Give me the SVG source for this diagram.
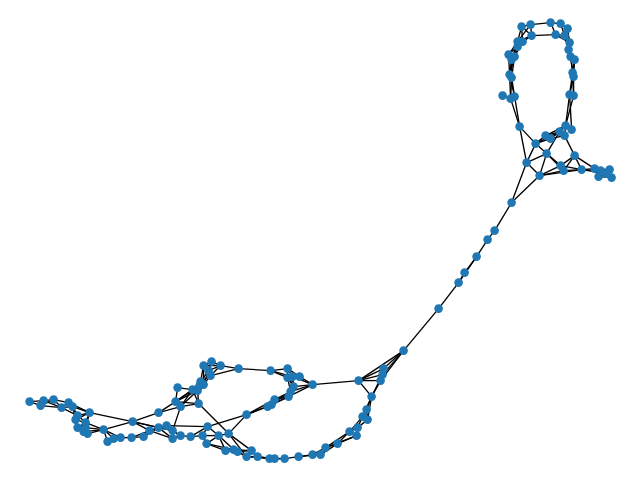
<svg xmlns="http://www.w3.org/2000/svg" width="640" height="480" viewBox="0 0 640 480">
<style>
#edges path{stroke:#000;stroke-width:1.35;fill:none}
.n circle{fill:#1f77b4;r:4.3px}
</style>
<rect width="640" height="480" fill="#fff"/>
<g id="edges" transform="translate(0.6 0.6)">
<path d="M521 26L530 24"/><path d="M530 24L550 22"/><path d="M550 22L560 23"/><path d="M560 23L567 28"/><path d="M531 35L555 34"/><path d="M555 34L564 35"/><path d="M550 22L555 34"/><path d="M560 23L564 35"/><path d="M567 28L564 35"/><path d="M521 26L531 35"/><path d="M530 24L531 35"/><path d="M521 26L517 41"/><path d="M521 26L522 41"/><path d="M530 24L517 41"/><path d="M531 35L522 41"/><path d="M531 35L517 41"/><path d="M555 34L569 42"/><path d="M564 35L569 42"/><path d="M567 28L569 42"/><path d="M569 42L568 49"/><path d="M564 35L568 49"/><path d="M568 49L570 56"/><path d="M568 49L574 59"/><path d="M570 56L574 59"/><path d="M569 42L570 56"/><path d="M570 56L572 72"/><path d="M570 56L573 76"/><path d="M574 59L572 72"/><path d="M574 59L573 76"/><path d="M572 72L573 76"/><path d="M572 72L569 94"/><path d="M572 72L573 95"/><path d="M573 76L569 94"/><path d="M573 76L573 95"/><path d="M569 94L573 95"/><path d="M569 94L565 125"/><path d="M573 95L565 125"/><path d="M569 94L571 129"/>
<path d="M517 41L522 41"/><path d="M517 41L517 46"/><path d="M522 41L517 46"/><path d="M517 41L508 54"/><path d="M522 41L514 56"/><path d="M517 46L508 54"/><path d="M517 46L514 56"/><path d="M517 46L511 59"/><path d="M508 54L514 56"/><path d="M508 54L511 59"/><path d="M514 56L511 59"/><path d="M517 41L511 59"/><path d="M508 54L509 74"/><path d="M511 59L509 74"/><path d="M511 59L511 77"/><path d="M514 56L509 74"/><path d="M514 56L511 77"/><path d="M509 74L511 77"/><path d="M509 74L510 98"/><path d="M509 74L514 96"/><path d="M511 77L510 98"/><path d="M511 77L514 96"/><path d="M502 95L510 98"/><path d="M510 98L514 96"/><path d="M510 98L519 126"/><path d="M514 96L519 126"/>
<path d="M519 126L535 143"/><path d="M519 126L526 162"/><path d="M535 143L545 135"/><path d="M535 143L559 131"/><path d="M535 143L550 138"/><path d="M545 135L550 138"/><path d="M545 135L559 131"/><path d="M550 138L559 131"/><path d="M559 131L565 125"/><path d="M565 125L564 135"/><path d="M559 131L564 135"/><path d="M565 125L571 129"/><path d="M545 135L565 125"/><path d="M550 138L564 135"/><path d="M535 143L546 153"/><path d="M535 143L526 162"/><path d="M546 153L526 162"/><path d="M546 153L539 175"/><path d="M526 162L539 175"/><path d="M526 162L511 202"/><path d="M539 175L511 202"/><path d="M546 153L560 165"/><path d="M546 153L563 170"/><path d="M546 153L559 131"/><path d="M564 135L574 155"/><path d="M574 155L560 165"/><path d="M574 155L563 170"/><path d="M574 155L581 169"/><path d="M574 155L594 168"/><path d="M560 165L563 170"/><path d="M560 165L539 175"/><path d="M563 170L539 175"/><path d="M581 169L539 175"/><path d="M581 169L563 170"/><path d="M560 165L581 169"/><path d="M581 169L594 168"/><path d="M581 169L600 170"/><path d="M581 169L606 173"/><path d="M594 168L600 170"/><path d="M594 168L609 169"/><path d="M594 168L598 176"/><path d="M600 170L606 173"/><path d="M609 169L606 173"/><path d="M609 169L611 177"/><path d="M606 173L611 177"/><path d="M598 176L606 173"/><path d="M598 176L600 170"/><path d="M598 176L611 177"/><path d="M600 170L611 177"/>
<path d="M511 202L494 230"/><path d="M494 230L487 239"/><path d="M487 239L476 256"/><path d="M476 256L464 272"/><path d="M476 256L458 282"/><path d="M464 272L458 282"/><path d="M458 282L438 308"/><path d="M438 308L403 350"/>
<path d="M403 350L383 368"/><path d="M403 350L382 374"/><path d="M403 350L380 380"/><path d="M403 350L358 380"/><path d="M383 368L382 374"/><path d="M382 374L380 380"/><path d="M383 368L380 380"/><path d="M383 368L358 380"/><path d="M382 374L358 380"/><path d="M380 380L358 380"/><path d="M358 380L312 384"/><path d="M358 380L371 396"/><path d="M380 380L371 396"/><path d="M382 374L371 396"/><path d="M371 396L366 409"/><path d="M371 396L362 416"/><path d="M371 396L367 419"/><path d="M366 409L362 416"/><path d="M366 409L367 419"/><path d="M362 416L367 419"/><path d="M362 416L357 427"/><path d="M362 416L349 431"/><path d="M367 419L357 427"/><path d="M357 427L349 431"/><path d="M357 427L356 435"/><path d="M349 431L356 435"/><path d="M349 431L337 443"/><path d="M356 435L337 443"/><path d="M349 431L325 447"/><path d="M356 435L325 447"/><path d="M337 443L325 447"/><path d="M337 443L320 454"/><path d="M325 447L312 454"/><path d="M325 447L320 454"/><path d="M312 454L320 454"/><path d="M312 454L298 456"/><path d="M320 454L298 456"/><path d="M298 456L284 458"/><path d="M284 458L274 458"/><path d="M284 458L269 458"/><path d="M274 458L269 458"/><path d="M274 458L257 456"/><path d="M269 458L257 456"/><path d="M269 458L246 456"/><path d="M257 456L251 450"/><path d="M257 456L246 456"/><path d="M251 450L246 456"/><path d="M251 450L237 451"/><path d="M251 450L233 449"/><path d="M246 456L237 451"/><path d="M246 456L233 449"/><path d="M237 451L233 449"/><path d="M233 449L225 450"/><path d="M237 451L225 450"/>
<path d="M238 368L270 370"/><path d="M238 368L220 365"/><path d="M238 368L210 375"/><path d="M220 365L211 361"/><path d="M220 365L203 365"/><path d="M211 361L203 365"/><path d="M211 361L208 370"/><path d="M220 365L208 370"/><path d="M220 365L210 375"/><path d="M203 365L208 370"/><path d="M203 365L200 381"/><path d="M208 370L210 375"/><path d="M208 370L200 381"/><path d="M208 370L203 384"/><path d="M210 375L200 381"/><path d="M210 375L203 384"/><path d="M203 365L203 384"/><path d="M200 381L203 384"/><path d="M200 381L192 389"/><path d="M200 381L197 390"/><path d="M203 384L197 390"/><path d="M203 384L192 389"/><path d="M199 385L192 389"/><path d="M199 385L175 401"/><path d="M192 389L197 390"/><path d="M177 387L192 389"/><path d="M177 387L175 401"/><path d="M192 389L175 401"/><path d="M192 389L180 406"/><path d="M197 390L198 403"/><path d="M197 390L175 401"/><path d="M197 390L180 406"/><path d="M192 389L198 403"/><path d="M175 401L180 406"/><path d="M175 401L198 403"/><path d="M180 406L198 403"/><path d="M175 401L158 412"/><path d="M180 406L158 412"/><path d="M158 412L132 421"/><path d="M180 406L172 430"/><path d="M198 403L228 433"/>
<path d="M166 425L207 426"/><path d="M132 421L89 412"/><path d="M132 421L103 429"/><path d="M132 421L158 427"/><path d="M132 421L149 430"/><path d="M132 421L172 430"/><path d="M207 426L246 414"/><path d="M246 414L228 433"/><path d="M246 414L267 406"/><path d="M246 414L271 404"/><path d="M246 414L274 399"/><path d="M267 406L271 404"/><path d="M271 404L274 399"/><path d="M267 406L274 399"/><path d="M267 406L288 396"/><path d="M271 404L288 396"/><path d="M274 399L288 396"/><path d="M274 399L290 391"/><path d="M267 406L290 391"/><path d="M288 396L290 391"/><path d="M288 396L293 386"/><path d="M290 391L293 386"/><path d="M288 396L312 384"/><path d="M290 391L312 384"/><path d="M293 386L312 384"/><path d="M293 386L292 376"/><path d="M293 386L287 377"/><path d="M290 391L287 377"/><path d="M290 391L292 376"/><path d="M287 377L292 376"/><path d="M292 376L299 376"/><path d="M287 377L287 368"/><path d="M287 368L292 376"/><path d="M287 368L299 376"/><path d="M270 370L287 368"/><path d="M270 370L287 377"/><path d="M270 370L292 376"/><path d="M299 376L312 384"/><path d="M292 376L312 384"/>
<path d="M207 426L218 435"/><path d="M207 426L202 435"/><path d="M207 426L190 436"/><path d="M218 435L228 433"/><path d="M218 435L206 443"/><path d="M218 435L202 435"/><path d="M228 433L251 450"/><path d="M228 433L246 456"/><path d="M218 435L225 450"/><path d="M218 435L233 449"/><path d="M206 443L225 450"/><path d="M206 443L233 449"/><path d="M225 450L233 449"/><path d="M202 435L190 436"/><path d="M202 435L206 443"/><path d="M190 436L180 435"/><path d="M180 435L172 438"/><path d="M180 435L172 430"/><path d="M172 438L172 430"/><path d="M172 430L166 425"/><path d="M166 425L158 427"/><path d="M158 427L149 430"/><path d="M166 425L149 430"/><path d="M158 427L172 430"/><path d="M158 427L143 436"/><path d="M149 430L143 436"/><path d="M143 436L131 437"/><path d="M149 430L131 437"/><path d="M131 437L120 437"/><path d="M120 437L113 438"/><path d="M120 437L107 441"/><path d="M113 438L107 441"/><path d="M113 438L103 429"/><path d="M107 441L103 429"/><path d="M120 437L103 429"/><path d="M103 429L85 422"/><path d="M103 429L85 427"/><path d="M103 429L83 431"/><path d="M103 429L87 433"/><path d="M172 438L149 430"/><path d="M172 438L158 427"/>
<path d="M29 401L43 400"/><path d="M29 401L40 405"/><path d="M43 400L40 405"/><path d="M43 400L53 399"/><path d="M40 405L61 407"/><path d="M43 400L61 407"/><path d="M40 405L53 399"/><path d="M53 399L68 402"/><path d="M53 399L61 407"/><path d="M61 407L68 402"/><path d="M61 407L72 406"/><path d="M68 402L72 406"/><path d="M68 402L89 412"/><path d="M72 406L89 412"/><path d="M68 402L77 415"/><path d="M72 406L77 415"/><path d="M61 407L77 415"/><path d="M77 415L89 412"/><path d="M75 419L89 412"/><path d="M72 406L75 419"/><path d="M77 415L75 419"/><path d="M75 419L85 422"/><path d="M77 415L85 422"/><path d="M85 422L85 427"/><path d="M85 422L83 431"/><path d="M85 427L83 431"/><path d="M83 431L87 433"/><path d="M85 427L87 433"/><path d="M77 427L85 422"/><path d="M77 427L75 419"/><path d="M77 427L85 427"/><path d="M85 422L87 433"/><path d="M89 412L85 422"/><path d="M89 412L85 427"/>
</g>
<g id="nodes" transform="translate(0.6 0.6)">
<g id="n1" class="n"><circle cx="521" cy="26"/></g><g id="n2" class="n"><circle cx="530" cy="24"/></g><g id="n3" class="n"><circle cx="550" cy="22"/></g><g id="n4" class="n"><circle cx="560" cy="23"/></g><g id="n5" class="n"><circle cx="567" cy="28"/></g><g id="n6" class="n"><circle cx="531" cy="35"/></g><g id="n7" class="n"><circle cx="555" cy="34"/></g><g id="n8" class="n"><circle cx="564" cy="35"/></g><g id="n9" class="n"><circle cx="569" cy="42"/></g><g id="n10" class="n"><circle cx="568" cy="49"/></g><g id="n11" class="n"><circle cx="570" cy="56"/></g><g id="n12" class="n"><circle cx="574" cy="59"/></g><g id="n13" class="n"><circle cx="572" cy="72"/></g><g id="n14" class="n"><circle cx="573" cy="76"/></g><g id="n15" class="n"><circle cx="569" cy="94"/></g><g id="n16" class="n"><circle cx="573" cy="95"/></g>
<g id="n17" class="n"><circle cx="517" cy="41"/></g><g id="n18" class="n"><circle cx="522" cy="41"/></g><g id="n19" class="n"><circle cx="517" cy="46"/></g><g id="n20" class="n"><circle cx="508" cy="54"/></g><g id="n21" class="n"><circle cx="514" cy="56"/></g><g id="n22" class="n"><circle cx="511" cy="59"/></g><g id="n23" class="n"><circle cx="509" cy="74"/></g><g id="n24" class="n"><circle cx="511" cy="77"/></g><g id="n25" class="n"><circle cx="502" cy="95"/></g><g id="n26" class="n"><circle cx="510" cy="98"/></g><g id="n27" class="n"><circle cx="514" cy="96"/></g>
<g id="n28" class="n"><circle cx="519" cy="126"/></g><g id="n29" class="n"><circle cx="565" cy="125"/></g><g id="n30" class="n"><circle cx="571" cy="129"/></g><g id="n31" class="n"><circle cx="559" cy="131"/></g><g id="n32" class="n"><circle cx="564" cy="135"/></g><g id="n33" class="n"><circle cx="545" cy="135"/></g><g id="n34" class="n"><circle cx="550" cy="138"/></g><g id="n35" class="n"><circle cx="535" cy="143"/></g><g id="n36" class="n"><circle cx="546" cy="153"/></g><g id="n37" class="n"><circle cx="574" cy="155"/></g><g id="n38" class="n"><circle cx="526" cy="162"/></g><g id="n39" class="n"><circle cx="560" cy="165"/></g><g id="n40" class="n"><circle cx="563" cy="170"/></g><g id="n41" class="n"><circle cx="581" cy="169"/></g><g id="n42" class="n"><circle cx="539" cy="175"/></g><g id="n43" class="n"><circle cx="594" cy="168"/></g><g id="n44" class="n"><circle cx="609" cy="169"/></g><g id="n45" class="n"><circle cx="600" cy="170"/></g><g id="n46" class="n"><circle cx="606" cy="173"/></g><g id="n47" class="n"><circle cx="598" cy="176"/></g><g id="n48" class="n"><circle cx="611" cy="177"/></g><g id="n49" class="n"><circle cx="511" cy="202"/></g>
<g id="n50" class="n"><circle cx="494" cy="230"/></g><g id="n51" class="n"><circle cx="487" cy="239"/></g><g id="n52" class="n"><circle cx="476" cy="256"/></g><g id="n53" class="n"><circle cx="464" cy="272"/></g><g id="n54" class="n"><circle cx="458" cy="282"/></g><g id="n55" class="n"><circle cx="438" cy="308"/></g>
<g id="n56" class="n"><circle cx="403" cy="350"/></g><g id="n57" class="n"><circle cx="383" cy="368"/></g><g id="n58" class="n"><circle cx="382" cy="374"/></g><g id="n59" class="n"><circle cx="380" cy="380"/></g><g id="n60" class="n"><circle cx="358" cy="380"/></g><g id="n61" class="n"><circle cx="312" cy="384"/></g><g id="n62" class="n"><circle cx="371" cy="396"/></g><g id="n63" class="n"><circle cx="366" cy="409"/></g><g id="n64" class="n"><circle cx="362" cy="416"/></g><g id="n65" class="n"><circle cx="367" cy="419"/></g><g id="n66" class="n"><circle cx="357" cy="427"/></g><g id="n67" class="n"><circle cx="349" cy="431"/></g><g id="n68" class="n"><circle cx="356" cy="435"/></g><g id="n69" class="n"><circle cx="337" cy="443"/></g><g id="n70" class="n"><circle cx="325" cy="447"/></g><g id="n71" class="n"><circle cx="312" cy="454"/></g><g id="n72" class="n"><circle cx="320" cy="454"/></g>
<g id="n73" class="n"><circle cx="298" cy="456"/></g><g id="n74" class="n"><circle cx="284" cy="458"/></g><g id="n75" class="n"><circle cx="274" cy="458"/></g><g id="n76" class="n"><circle cx="269" cy="458"/></g><g id="n77" class="n"><circle cx="257" cy="456"/></g><g id="n78" class="n"><circle cx="251" cy="450"/></g><g id="n79" class="n"><circle cx="246" cy="456"/></g><g id="n80" class="n"><circle cx="237" cy="451"/></g><g id="n81" class="n"><circle cx="233" cy="449"/></g><g id="n82" class="n"><circle cx="225" cy="450"/></g><g id="n83" class="n"><circle cx="218" cy="435"/></g><g id="n84" class="n"><circle cx="228" cy="433"/></g><g id="n85" class="n"><circle cx="206" cy="443"/></g><g id="n86" class="n"><circle cx="207" cy="426"/></g><g id="n87" class="n"><circle cx="202" cy="435"/></g><g id="n88" class="n"><circle cx="190" cy="436"/></g><g id="n89" class="n"><circle cx="180" cy="435"/></g><g id="n90" class="n"><circle cx="172" cy="438"/></g><g id="n91" class="n"><circle cx="172" cy="430"/></g><g id="n92" class="n"><circle cx="166" cy="425"/></g><g id="n93" class="n"><circle cx="158" cy="427"/></g><g id="n94" class="n"><circle cx="149" cy="430"/></g><g id="n95" class="n"><circle cx="143" cy="436"/></g><g id="n96" class="n"><circle cx="131" cy="437"/></g><g id="n97" class="n"><circle cx="120" cy="437"/></g><g id="n98" class="n"><circle cx="113" cy="438"/></g><g id="n99" class="n"><circle cx="107" cy="441"/></g><g id="n100" class="n"><circle cx="103" cy="429"/></g><g id="n101" class="n"><circle cx="132" cy="421"/></g><g id="n102" class="n"><circle cx="158" cy="412"/></g><g id="n103" class="n"><circle cx="180" cy="406"/></g><g id="n104" class="n"><circle cx="175" cy="401"/></g><g id="n105" class="n"><circle cx="198" cy="403"/></g><g id="n106" class="n"><circle cx="177" cy="387"/></g><g id="n107" class="n"><circle cx="192" cy="389"/></g><g id="n108" class="n"><circle cx="197" cy="390"/></g><g id="n109" class="n"><circle cx="199" cy="385"/></g><g id="n110" class="n"><circle cx="200" cy="381"/></g><g id="n111" class="n"><circle cx="203" cy="384"/></g><g id="n112" class="n"><circle cx="210" cy="375"/></g><g id="n113" class="n"><circle cx="208" cy="370"/></g><g id="n114" class="n"><circle cx="203" cy="365"/></g><g id="n115" class="n"><circle cx="211" cy="361"/></g><g id="n116" class="n"><circle cx="220" cy="365"/></g><g id="n117" class="n"><circle cx="238" cy="368"/></g><g id="n118" class="n"><circle cx="270" cy="370"/></g><g id="n119" class="n"><circle cx="287" cy="368"/></g><g id="n120" class="n"><circle cx="287" cy="377"/></g><g id="n121" class="n"><circle cx="292" cy="376"/></g><g id="n122" class="n"><circle cx="299" cy="376"/></g><g id="n123" class="n"><circle cx="293" cy="386"/></g><g id="n124" class="n"><circle cx="290" cy="391"/></g><g id="n125" class="n"><circle cx="288" cy="396"/></g><g id="n126" class="n"><circle cx="274" cy="399"/></g><g id="n127" class="n"><circle cx="271" cy="404"/></g><g id="n128" class="n"><circle cx="267" cy="406"/></g><g id="n129" class="n"><circle cx="246" cy="414"/></g>
<g id="n130" class="n"><circle cx="29" cy="401"/></g><g id="n131" class="n"><circle cx="43" cy="400"/></g><g id="n132" class="n"><circle cx="40" cy="405"/></g><g id="n133" class="n"><circle cx="53" cy="399"/></g><g id="n134" class="n"><circle cx="61" cy="407"/></g><g id="n135" class="n"><circle cx="68" cy="402"/></g><g id="n136" class="n"><circle cx="72" cy="406"/></g><g id="n137" class="n"><circle cx="89" cy="412"/></g><g id="n138" class="n"><circle cx="77" cy="415"/></g><g id="n139" class="n"><circle cx="75" cy="419"/></g><g id="n140" class="n"><circle cx="85" cy="422"/></g><g id="n141" class="n"><circle cx="77" cy="427"/></g><g id="n142" class="n"><circle cx="85" cy="427"/></g><g id="n143" class="n"><circle cx="83" cy="431"/></g><g id="n144" class="n"><circle cx="87" cy="433"/></g>
</g>
</svg>
